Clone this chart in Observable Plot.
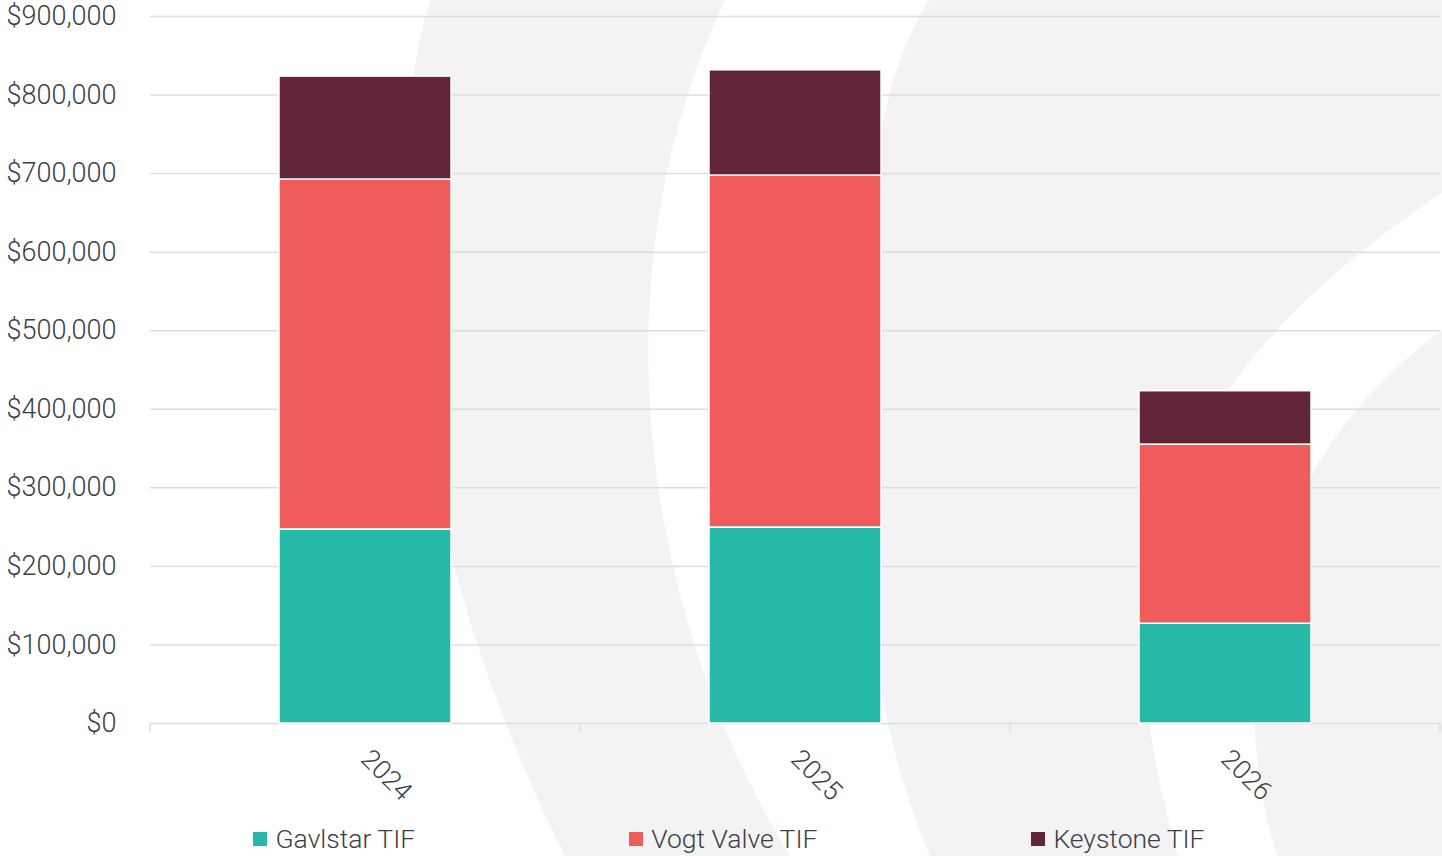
<!DOCTYPE html>
<html>
<head>
<meta charset="utf-8">
<script src="https://cdn.jsdelivr.net/npm/d3@7"></script>
<script src="https://cdn.jsdelivr.net/npm/@observablehq/plot@0.6"></script>
<style>
  html, body { margin: 0; padding: 0; background: #ffffff; }
  body { width: 1442px; height: 856px; position: relative; overflow: hidden; font-family: Roboto, sans-serif; }
  #bg { position: absolute; left: 0; top: 0; z-index: 0; }
  #chart { position: absolute; left: 0; top: 0; z-index: 1; }
  #legend { position: absolute; left: 0; top: 823px; width: 1442px; z-index: 1;
    display: flex; justify-content: center; gap: 214px; padding-left: 16px; box-sizing: border-box;
    font-family: Roboto, sans-serif; font-weight: 300; font-size: 26.5px; color: #3b3f48; line-height: 32px; }
  .item { display: flex; align-items: center; white-space: nowrap; }
  .sw { width: 14px; height: 14px; margin-right: 8px; display: inline-block; }
</style>
</head>
<body>
<svg id="bg" width="1442" height="856" viewBox="0 0 1442 856">
  <rect width="1442" height="856" fill="#ffffff"/>
  <path d="M430,0 C385,150 385,500 565,856 L790,856 C680,680 570,330 725,0 Z" fill="#f3f3f3"/>
  <path d="M929,0 C840,130 820,600 930,856 L1178,856 C1120,650 1100,420 1442,193 L1442,0 Z" fill="#f3f3f3"/>
  <path d="M1277,856 C1230,700 1240,480 1442,330 L1442,856 Z" fill="#f3f3f3"/>
</svg>
<div id="chart"></div>
<div id="legend"></div>
<script>
// ---- data ----
const years = ["2024", "2025", "2026"];
const seriesNames = ["Gavlstar TIF", "Vogt Valve TIF", "Keystone TIF"];
const gavlstar = [247000, 249500, 127000];
const vogtValve = [445500, 448000, 228000];
const keystone = [131000, 134000, 68000];
const seriesColors = ["#26b9a7", "#f05c5c", "#612537"];
const yTicks = [0, 100000, 200000, 300000, 400000, 500000, 600000, 700000, 800000, 900000];

const seriesValues = [gavlstar, vogtValve, keystone];
const data = years.flatMap((year, i) =>
  seriesNames.map((s, j) => ({ year, series: s, value: seriesValues[j][i] }))
);

const textColor = "#3b3f48";
const gridColor = "#dcdde3";

const chart = Plot.plot({
  width: 1442,
  height: 812,
  marginLeft: 150,
  marginRight: 2,
  marginTop: 16,
  marginBottom: 89,
  style: { background: "transparent", fontFamily: "Roboto, sans-serif", color: textColor, overflow: "visible" },
  x: { domain: years, paddingInner: 0.6, paddingOuter: 0.3, label: null },
  y: { domain: [0, 900000], label: null },
  color: { domain: seriesNames, range: seriesColors },
  marks: [
    Plot.gridY(yTicks, { stroke: gridColor, strokeOpacity: 1, strokeWidth: 1.5 }),
    Plot.barY(data, Plot.stackY({ x: "year", y: "value", fill: "series", order: seriesNames, stroke: "#ffffff", strokeWidth: 1.5 })),
    Plot.axisY(yTicks, { tickSize: 0, tickPadding: 34, tickFormat: d3.format("$,"), fontSize: 27, fontWeight: 300, fill: textColor, label: null }),
    Plot.axisX({ tickSize: 0, tickRotate: 45, tickPadding: 31, fontSize: 26.5, fontWeight: 300, fill: textColor, label: null })
  ]
});
document.getElementById("chart").appendChild(chart);

// band-boundary tick marks on the baseline, derived from the x scale
const xs = chart.scale("x");
const ys = chart.scale("y");
const y0 = ys.apply(0);
const half = (xs.step - xs.bandwidth) / 2;
const bounds = years.map(y => xs.apply(y) - half).concat([xs.apply(years[years.length - 1]) + xs.bandwidth + half]);
const svg = d3.select(chart);
svg.append("g").selectAll("line").data(bounds).join("line")
  .attr("x1", d => d).attr("x2", d => d)
  .attr("y1", y0).attr("y2", y0 + 9)
  .attr("stroke", gridColor).attr("stroke-width", 1.5);

// legend
const legend = d3.select("#legend");
seriesNames.forEach((s, i) => {
  const it = legend.append("div").attr("class", "item");
  it.append("span").attr("class", "sw").style("background", seriesColors[i]);
  it.append("span").text(s);
});
</script>
</body>
</html>
